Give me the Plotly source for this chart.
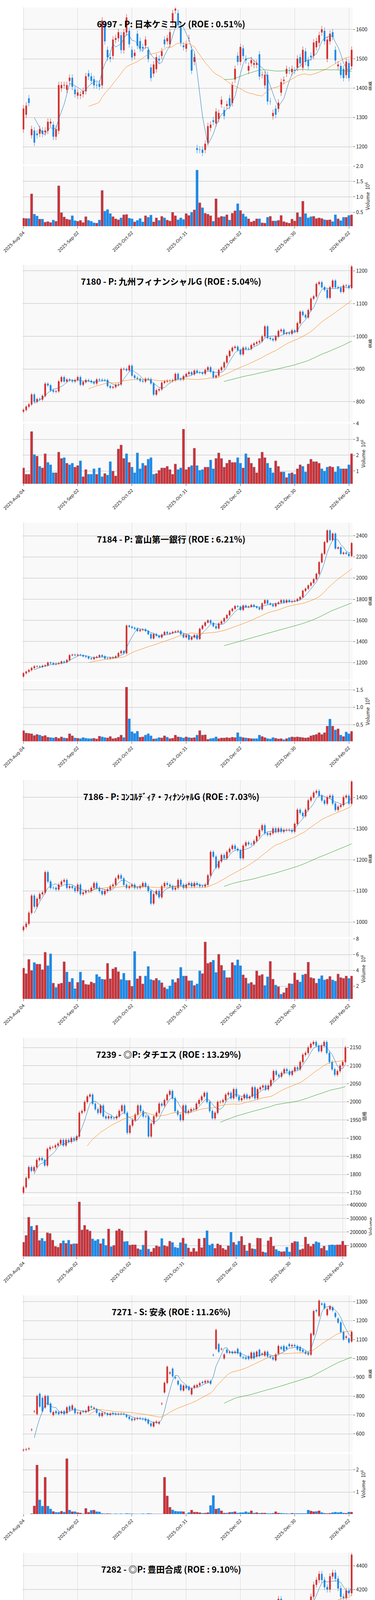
import plotly.graph_objects as go
import pandas as pd

N = 122
tick_idx = [0, 20, 40, 60, 80, 100, 120]
tick_text = ["2025-Aug-04", "2025-Sep-02", "2025-Oct-02", "2025-Oct-31", "2025-Dec-02", "2025-Dec-30", "2026-Feb-02"]

titles = ["6997 - P: 日本ケミコン (ROE : 0.51%)", "7180 - P: 九州フィナンシャルG (ROE : 5.04%)",
          "7184 - P: 富山第一銀行 (ROE : 6.21%)", "7186 - P: ｺﾝｺﾙﾃﾞｨｱ・ﾌｨﾅﾝｼｬﾙG (ROE : 7.03%)",
          "7239 - ◎P: タチエス (ROE : 13.29%)", "7271 - S: 安永 (ROE : 11.26%)",
          "7282 - ◎P: 豊田合成 (ROE : 9.10%)", "7287 - S: 日本精機 (ROE : 4.13%)",
          "7327 - P: 第四北越フィナンシャルG (ROE : 8.08%)", "7381 - P: 北國フィナンシャルHD (ROE : 5.84%)"]

open_6997 = [1260,1310,1365,1240,1255,1245,1245,1255,1250,1255,1280,1275,1235,1255,1400,1410,1395,1425,1435,1395,1375,1375,1380,1390,1450,1440,1430,1410,1415,1410,1620,1530,1505,1510,1565,1570,1580,1530,1590,1595,1530,1510,1585,1560,1540,1545,1530,1470,1450,1465,1500,1510,1565,1560,1550,1625,1665,1655,1605,1545,1535,1570,1530,1490,1195,1190,1190,1190,1215,1265,1290,1280,1295,1345,1325,1340,1365,1350,1430,1510,1490,1535,1500,1460,1485,1480,1480,1515,1445,1410,1445,1355,1305,1330,1330,1385,1425,1450,1460,1455,1460,1470,1505,1470,1525,1495,1510,1510,1540,1555,1590,1595,1500,1560,1590,1530,1475,1475,1465,1445,1485,1475]
close_6997 = [1330,1340,1350,1260,1215,1240,1260,1245,1255,1285,1285,1235,1260,1410,1410,1410,1410,1435,1405,1380,1385,1378,1390,1440,1440,1425,1410,1410,1405,1630,1560,1505,1500,1565,1570,1590,1530,1590,1640,1550,1505,1520,1545,1535,1535,1565,1500,1435,1480,1505,1495,1525,1550,1570,1590,1655,1670,1615,1555,1540,1550,1570,1460,1505,1190,1190,1180,1210,1270,1275,1285,1320,1315,1360,1305,1345,1340,1410,1465,1490,1540,1510,1495,1475,1495,1485,1485,1440,1445,1445,1355,1355,1315,1310,1350,1420,1428,1465,1460,1465,1460,1500,1485,1530,1490,1475,1505,1555,1560,1580,1600,1560,1565,1585,1575,1495,1480,1445,1435,1490,1435,1530]
vol_6997 = [.31,.30,.30,1.10,.44,.38,.28,.28,.18,.20,.17,.25,.21,1.36,.49,.35,.28,.26,.39,.23,.21,.24,.17,.36,.24,.21,.16,.15,.25,1.21,.54,.59,.46,.36,.29,.26,.32,.42,.43,.31,.29,.19,.24,.30,.19,.39,.34,.41,.19,.32,.24,.37,.32,.25,.22,.50,.39,.26,.32,.27,.46,.40,.50,.58,1.87,.81,.65,.47,.44,.39,.21,.94,.33,.37,.36,.42,.25,.47,.55,.78,.56,.45,.36,.29,.19,.22,.29,.29,.16,.15,.34,.37,.22,.22,.24,.40,.20,.17,.15,.28,.22,.49,.35,.86,.46,.32,.36,.37,.30,.32,.30,.26,.25,.26,.20,.42,.29,.23,.34,.34,.40,.42]

close_7180 = [775,785,792,822,800,808,807,818,855,850,835,831,832,862,875,862,868,865,862,866,875,852,860,866,864,860,856,868,867,866,866,848,843,845,852,853,900,900,896,910,880,873,870,864,862,870,869,856,822,835,838,858,862,864,864,866,885,870,868,878,885,890,884,895,890,889,886,897,905,892,875,880,897,905,920,940,955,965,968,958,945,965,962,962,973,978,982,985,1000,1030,995,992,988,1000,1016,1020,1008,1010,1008,1018,1014,1040,1075,1065,1058,1080,1115,1122,1160,1165,1150,1142,1118,1150,1170,1150,1148,1136,1155,1155,1148,1213]
vol_7180 = [1.2,.8,.8,3.5,2.05,1.95,1.3,1.2,2.1,1.55,1.4,.9,.9,2.2,1.8,1.85,1.5,1.4,1.5,1.25,1.35,1.65,.65,1.1,.8,.8,1.15,.8,1.2,.65,.85,.75,1.6,1.0,.7,2.4,2.65,1.8,2.1,1.55,1.25,.9,2.15,1.15,1.5,1.35,1.75,1.85,.8,.85,1.05,1.2,1.2,1.3,1.1,.8,1.45,1.1,1.2,3.65,1.1,1.25,1.35,2.45,1.35,1.05,1.1,1.25,1.25,1.7,1.15,1.8,2.15,1.8,1.25,1.5,1.7,1.55,1.55,1.85,1.5,1.2,2.1,1.85,1.5,1.25,.9,1.8,2.2,1.85,1.5,1.2,.9,1.65,1.3,.95,.95,.6,.85,.9,.8,1.15,1.4,1.3,.95,1.45,1.75,1.6,1.6,1.5,1.15,1.0,1.25,1.3,1.25,.95,1.3,1.15,1.15,1.15,1.4,2.1]

close_7184 = [1100,1115,1130,1150,1165,1165,1160,1170,1175,1200,1195,1185,1190,1195,1210,1205,1225,1270,1275,1270,1275,1270,1260,1255,1240,1235,1250,1255,1270,1260,1240,1240,1245,1250,1260,1290,1310,1290,1550,1540,1530,1520,1500,1510,1515,1500,1470,1430,1470,1455,1440,1465,1490,1475,1480,1490,1495,1500,1470,1440,1460,1420,1440,1460,1425,1520,1550,1580,1600,1575,1545,1525,1570,1590,1620,1650,1690,1710,1735,1730,1700,1740,1725,1730,1745,1730,1720,1705,1760,1790,1760,1750,1735,1760,1770,1790,1770,1790,1775,1780,1785,1800,1820,1880,1900,1930,1955,1990,2040,2150,2230,2340,2450,2360,2420,2280,2290,2230,2240,2230,2210,2330]
vol_7184 = [.33,.26,.25,.24,.19,.22,.2,.17,.19,.14,.13,.12,.14,.11,.15,.12,.11,.24,.18,.12,.11,.1,.13,.11,.1,.1,.11,.09,.17,.15,.13,.12,.16,.1,.11,.14,.2,.13,1.58,.67,.3,.25,.31,.14,.15,.2,.24,.18,.09,.1,.13,.12,.18,.14,.1,.11,.2,.15,.14,.12,.15,.13,.12,.13,.2,.33,.2,.21,.08,.1,.11,.15,.1,.12,.12,.13,.12,.14,.13,.27,.15,.13,.12,.11,.1,.1,.1,.2,.16,.13,.1,.09,.13,.11,.09,.1,.07,.1,.13,.15,.14,.15,.14,.13,.12,.13,.18,.2,.22,.27,.22,.27,.46,.66,.46,.35,.38,.2,.16,.29,.24,.31]

close_7186 = [985,995,1030,1085,1050,1075,1090,1095,1160,1130,1110,1110,1105,1120,1130,1135,1110,1115,1110,1100,1120,1090,1095,1100,1100,1110,1125,1110,1100,1090,1100,1105,1115,1120,1140,1150,1140,1120,1110,1115,1120,1110,1110,1115,1125,1115,1100,1060,1090,1100,1080,1115,1125,1120,1115,1105,1110,1135,1120,1110,1120,1125,1115,1125,1120,1115,1115,1120,1150,1225,1210,1175,1195,1215,1205,1225,1235,1245,1235,1230,1205,1245,1255,1250,1250,1260,1275,1295,1310,1285,1280,1285,1300,1290,1300,1290,1295,1295,1295,1290,1315,1360,1350,1340,1360,1390,1400,1415,1420,1405,1390,1380,1400,1405,1380,1360,1370,1375,1400,1405,1380,1450]
vol_7186 = [4.3,3.6,5.4,4.0,5.0,4.8,4.8,4.1,6.3,4.6,6.1,2.4,1.85,2.3,2.4,5.1,3.8,2.55,3.0,1.7,2.5,3.8,2.75,2.25,2.2,2.55,2.4,3.5,3.2,2.9,2.85,4.9,2.95,4.2,4.4,3.85,2.85,3.65,2.75,2.75,2.0,6.4,2.95,3.3,2.3,3.3,4.5,2.85,2.75,3.0,2.75,2.45,1.85,1.65,2.05,2.85,2.5,3.0,4.4,3.3,3.3,2.7,2.7,2.1,2.3,3.95,3.6,7.6,4.9,5.05,5.3,3.75,6.05,4.65,4.0,3.1,3.1,5.0,4.65,5.35,4.6,3.45,3.05,2.35,2.5,2.2,3.95,3.35,3.5,2.1,3.2,5.15,2.9,2.15,1.95,1.0,1.2,1.8,2.35,2.3,3.7,2.8,2.55,3.45,3.55,5.05,3.1,3.0,2.4,2.95,3.35,2.8,2.9,3.25,2.8,2.65,3.55,3.1,3.0,3.3,3.0,3.3]

close_7239 = [1765,1790,1820,1810,1820,1840,1845,1840,1825,1870,1875,1875,1880,1885,1895,1880,1895,1890,1900,1895,1905,1970,1975,2000,2015,2020,1995,1980,1970,1990,1960,1955,1960,1955,1955,1960,1975,1990,1970,1915,1935,1950,1965,1990,1975,1960,1960,1905,1940,1960,1970,1995,1990,2005,2020,2030,2010,1975,1965,1950,1990,1970,1975,1980,1980,1995,2005,2015,2025,2000,1975,1955,1970,2000,2000,2005,2020,2025,2010,2035,2015,2005,2010,2020,2010,2015,2040,2010,2035,2040,2045,2035,2045,2060,2085,2075,2070,2080,2090,2085,2075,2085,2095,2090,2110,2130,2135,2150,2160,2165,2155,2140,2155,2165,2135,2110,2090,2075,2085,2100,2110,2150]
vol_7239 = [125,175,310,243,214,250,138,154,133,195,190,140,94,88,117,136,117,140,110,114,114,423,216,250,218,208,149,136,146,115,150,102,223,92,102,210,223,210,129,131,104,106,106,78,70,104,210,74,54,81,99,92,152,101,94,133,123,88,83,122,156,113,83,54,81,56,150,85,156,210,104,113,80,113,104,80,69,99,199,124,106,133,168,104,61,118,78,74,156,154,54,48,136,163,96,71,60,54,56,88,53,120,131,129,69,76,163,112,94,112,129,122,80,96,64,104,106,104,106,106,133,104]

open_7271 = [513,516,520,621,718,705,812,790,740,800,760,700,720,715,710,720,710,745,730,735,710,705,720,715,720,745,735,730,710,695,709,708,700,710,707,704,706,706,700,690,680,675,680,683,680,680,675,655,640,660,655,759,820,870,920,945,900,880,860,830,855,850,810,845,850,858,875,872,875,880,1018,1050,1075,1048,1000,1045,1030,1035,1030,1050,1030,1006,1005,1010,1000,1030,1010,1045,1020,1015,1035,1010,1005,990,1025,1060,1065,1060,1075,1065,1070,1065,1060,1045,1035,1030,1020,1125,1255,1225,1290,1290,1230,1260,1270,1240,1210,1190,1140,1110,1105,1090]
close_7271 = [515,518,522,622,719,800,745,720,800,755,715,715,710,705,718,705,740,725,750,710,712,715,716,722,745,740,738,712,695,710,710,700,707,705,703,705,705,705,690,680,672,680,683,682,678,670,655,642,660,665,662,760,870,955,925,905,895,862,832,855,842,833,840,855,858,868,870,880,880,866,1017,1150,1035,1050,1020,1030,1035,1027,1035,1027,1010,1003,998,997,1030,1000,1035,1012,1025,1035,1010,1005,995,1020,1065,1050,1040,1050,1065,1070,1065,1047,1040,1035,1025,1020,1130,1250,1250,1305,1285,1265,1260,1275,1255,1220,1190,1140,1100,1115,1085,1140]
vol_7271 = [.005,.005,.005,.03,.38,2.22,.65,.37,1.67,.37,.24,.13,.09,.09,.14,.1,2.51,.19,.12,.12,.08,.06,.03,.27,.09,.18,.19,.12,.11,.04,.03,.04,.03,.02,.03,.02,.03,.02,.04,.03,.03,.02,.02,.02,.03,.02,.04,.03,.02,.02,.02,.02,1.67,.83,.32,.2,.14,.13,.13,.12,.03,.08,.19,.1,.1,.08,.05,.06,.08,.4,.85,.24,.27,.16,.06,.06,.09,.1,.12,.06,.08,.08,.12,.08,.16,.06,.08,.05,.06,.06,.04,.04,.05,.12,.06,.05,.04,.04,.03,.05,.04,.04,.04,.04,.04,.19,.15,.12,.13,.16,.08,.05,.04,.05,.08,.1,.08,.1,.06,.05,.1,.1]

close_7282 = [3290,3330,3345,3350,3460,3390,3410,3360,3370,3460,3490,3495,3470,3500,3530,3590,3520,3560,3530,3560,3640,3680,3720,3760,3780,3740,3720,3740,3700,3780,3740,3730,3710,3670,3690,3710,3720,3740,3780,3690,3630,3580,3590,3680,3740,3700,3740,3680,3580,3660,3640,3690,3720,3740,3720,3760,3800,3720,3690,3780,3610,3720,3840,3820,3810,3860,3840,3880,3880,3840,3800,3780,3700,3760,3400,3580,3630,3580,3520,3480,3580,3530,3520,3460,3540,3660,3700,3690,3800,3860,3950,3910,3950,4040,4120,4010,3930,3960,3920,3930,3920,4020,4080,4030,4040,4050,4140,4240,4280,4330,4280,4220,4200,4310,4340,4290,4210,4140,4130,4190,4170,4490]
vol_7282 = [.7,.9,.6,.6,.7,1.2,.6,.5,.6,.6,.5,.4,.4,.5,.4,.5,.6,.5,.4,.5,.4,.6,.6,.5,.5,.5,.4,.4,.5,.4,.4,.5,.6,.5,.5,.5,.4,.4,.5,.5,.6,.5,.6,.7,.6,.6,.5,.5,.4,.4,.5,.4,.5,.9,.5,.5,.6,.5,.6,1.5,1.0,1.1,.8,.5,.4,.4,.4,.5,.5,.4,.4,.5,.4,.4,2.1,1.45,1.2,1.9,5.3,7.7,2.8,4.0,3.0,17.9,5.8,2.8,1.8,2.4,1.7,1.7,1.4,1.4,1.8,1.5,1.45,.9,.7,.6,.55,.6,1.0,1.0,1.0,.9,.9,1.6,1.2,1.3,1.7,1.0,1.2,1.45,1.1,.9,1.05,1.1,1.1,1.2,1.3,1.35,1.45,3.2]

close_7287 = [1570,1585,1605,1620,1570,1590,1580,1575,1585,1630,1625,1650,1670,1675,1690,1680,1690,1705,1735,1710,1710,1720,1725,1760,1755,1760,1755,1755,1750,1745,1740,1750,1770,1785,1780,1790,1795,1780,1790,1730,1710,1730,1750,1760,1740,1760,1740,1720,1690,1710,1730,1760,1775,1770,1790,1815,1820,1820,1800,1775,1760,1840,1800,1840,1800,1810,1800,1950,1920,1930,1960,1980,2000,1970,2000,2030,2050,2110,2080,2120,2090,2080,2090,2050,2100,2140,2130,2160,2170,2150,2140,2140,2110,2150,2230,2225,2190,2180,2185,2185,2190,2210,2300,2310,2360,2350,2360,2400,2480,2540,2500,2560,2680,2640,2630,2640,2460,2410,2500,2500,2505,2620]
vol_7287 = [151,167,118,167,249,183,167,147,143,180,95,183,101,82,128,128,88,92,141,137,92,92,108,167,137,101,64,101,58,67,108,114,233,118,161,143,141,105,92,134,92,59,118,84,75,82,124,137,78,105,114,118,134,112,187,62,97,97,112,95,64,128,128,117,158,93,111,360,163,124,196,174,233,197,157,114,114,204,118,161,125,107,84,233,121,108,184,118,118,187,108,147,167,243,207,162,118,97,101,97,96,128,299,312,187,250,378,190,163,292,312,237,349,387,351,257,203,522,336,263,272,259]

close_7327 = [1215,1240,1245,1290,1285,1270,1275,1270,1290,1275,1265,1265,1270,1275,1300,1315,1305,1310,1300,1300,1300,1320,1365,1320,1330,1330,1325,1315,1340,1355,1355,1335,1315,1315,1315,1310,1330,1360,1390,1440,1400,1390,1425,1390,1430,1420,1430,1460,1475,1435,1420,1410,1450,1435,1440,1470,1480,1465,1475,1465,1500,1440,1495,1480,1480,1490,1520,1480,1470,1490,1475,1490,1505,1490,1480,1470,1485,1530,1560,1585,1610,1620,1650,1640,1630,1660,1650,1665,1640,1610,1620,1680,1640,1650,1645,1630,1665,1640,1625,1620,1630,1665,1700,1720,1720,1740,1780,1810,1810,1810,1810,1790,1760,1810,1860,1800,1800,1775,1820,1840,1780,1830]
vol_7327 = [.94,.82,.55,.73,.71,.9,.53,.66,.94,.58,.71,.44,.37,.73,.53,.65,.51,.49,.52,1.39,.96,1.39,.62,.71,.59,.57,.81,.51,.77,.51,.67,.54,1.04,.58,.56,.72,1.39,1.67,1.31,1.1,.67,.83,1.19,.51,.77,.61,.88,.86,.51,.44,.66,.61,.54,.75,.5,.35,.83,.81,.5,.75,.63,.63,.75,.71,.82,.89,.5,.57,.5,.49,.48,.54,.48,.52,.8,.58,.62,.6,.63,.85,.77,.56,.55,.49,.43,.41,.56,.63,.88,.67,.94,.63,.75,.92,.5,.58,.56,.34,.56,.64,.5,.71,.84,.88,.56,.71,.81,.73,.73,.96,.6,.59,.84,.88,.59,.71,.54,.74,.86,.88,1.19,1.0]

close_7381 = [555,562,563,570,577,583,585,595,605,615,620,600,595,600,615,630,615,610,608,608,610,620,618,618,622,620,620,630,635,638,625,615,613,615,620,620,628,655,660,690,680,660,660,665,665,662,645,625,630,640,632,650,655,650,665,675,690,680,670,675,670,645,660,650,648,645,650,640,645,650,630,620,625,630,650,650,660,665,700,710,715,700,708,715,718,712,714,695,705,715,700,705,700,700,725,720,790,765,795,815,810,845,875,900,895,900,915,935,975,985,965,960,935,965,975,945,910,885,920,925,875,915]
vol_7381 = [.74,.48,.57,.52,.69,.93,.83,.71,.72,.79,.78,.39,.37,.6,.57,.57,.52,.43,.43,.64,.54,.99,.54,.45,.55,.45,.41,.29,.62,.57,.71,.42,.91,.59,.45,.46,.83,.79,1.08,1.12,.83,.57,.74,.57,.45,.52,.74,.59,.26,.28,.39,.37,.54,.61,.52,.5,1.4,.77,.66,1.58,.75,1.14,.72,.72,.48,.45,.41,.5,.39,.31,.53,.57,.45,.45,.48,.39,.51,.41,.93,.79,.54,.45,.37,.48,.43,.41,.53,.48,.54,.39,.45,.45,.43,.43,.57,.26,2.46,1.19,.93,.64,.59,.97,.97,1.23,1.43,.91,.88,.88,1.3,.85,1.0,.71,.84,.76,.78,.91,.91,1.15,.99,1.2,1.54,1.03]

closes = [close_6997, close_7180, close_7184, close_7186, close_7239, close_7271, close_7282, close_7287, close_7327, close_7381]
opens_given = [open_6997, None, None, None, None, open_7271, None, None, None, None]
first_open = [1260, 770, 1070, 975, 1750, 513, 3200, 1550, 1195, 550]
vols = [vol_6997, vol_7180, vol_7184, vol_7186, vol_7239, vol_7271, vol_7282, vol_7287, vol_7327, vol_7381]
vol_scale = [1, 1, 1, 1, 1000, 1, 1, 1000, 1, 1]
wick = [12, 5, 12, 6, 5, 8, 25, 12, 8, 5]
price_range = [[1140, 1675], [738, 1218], [1040, 2525], [952, 1455], [1744, 2177], [502, 1334], [3190, 4507], [1492, 2726], [1178, 1865], [544, 1004]]
price_dtick = [100, 100, 200, 100, 50, 100, 200, 200, 100, 100]
vol_range = [[0.05, 2.0], [0.2, 4.0], [0.02, 1.75], [0.4, 8.0], [19000, 464000], [0.01, 2.72], [0.2, 19.6], [22000, 572000], [0.11, 1.82], [0.1, 2.69]]
vol_dtick = [0.5, 1, 0.5, 2, 100000, 1, 5, 200000, 0.5, 1]
vol_fmt = [".1f", "d", ".1f", "d", "d", "d", "d", "d", ".1f", "d"]
vol_title = ["Volume  10<sup>6</sup>"] * 4 + ["Volume"] + ["Volume  10<sup>6</sup>"] * 2 + ["Volume"] + ["Volume  10<sup>6</sup>"] * 2
x_right = [1.0, 1.0, 1.0, 1.0, 0.981, 1.0, 1.0, 0.981, 1.0, 1.0]

RED = "#d32f2f"
BLUE = "#1e88e5"
H = 6597
FONT = "Noto Sans CJK JP"

def fix(a):
    a = list(a)
    return (a + [a[-1]] * N)[:N]

fig = go.Figure()
layout = dict()
x = list(range(N))
for k in range(10):
    c = fix(closes[k])
    if opens_given[k] is not None:
        o = fix(opens_given[k])
    else:
        o = [first_open[k]] + c[:-1]
    w = wick[k]
    hi = [max(a, b) + w for a, b in zip(o, c)]
    lo = [min(a, b) - w for a, b in zip(o, c)]
    v = [val * vol_scale[k] for val in fix(vols[k])]
    cols = [RED if cc >= oo else BLUE for oo, cc in zip(o, c)]
    s = pd.Series(c)
    px_, py_ = 2 * k + 1, 2 * k + 2
    xa1, ya1 = f"x{px_}" if px_ > 1 else "x", f"y{px_}" if px_ > 1 else "y"
    xa2, ya2 = f"x{py_}", f"y{py_}"
    fig.add_trace(go.Candlestick(x=x, open=o, high=hi, low=lo, close=c, xaxis=xa1, yaxis=ya1,
                                 increasing=dict(line=dict(color=RED, width=1), fillcolor=RED),
                                 decreasing=dict(line=dict(color=BLUE, width=1), fillcolor=BLUE),
                                 whiskerwidth=0, showlegend=False))
    for win, col in [(5, "#1f77b4"), (25, "#ff7f0e"), (75, "#2ca02c")]:
        fig.add_trace(go.Scatter(x=x, y=s.rolling(win).mean(), mode="lines", line=dict(color=col, width=1),
                                 xaxis=xa1, yaxis=ya1, showlegend=False))
    fig.add_trace(go.Bar(x=x, y=v, marker=dict(color=cols, line=dict(color="#5b9bd5", width=0.5)),
                         xaxis=xa2, yaxis=ya2, showlegend=False, width=0.9))
    T = 11 + 659.4 * k
    pd_ = [1 - (T + 402) / H, 1 - T / H]
    vd_ = [1 - (T + 560) / H, 1 - (T + 406) / H]
    xd = [0, x_right[k]]
    common_x = dict(range=[-0.3, 121.4], domain=xd, tickvals=tick_idx, showgrid=True, gridcolor="#d9d9d9",
                    zeroline=False, showline=False)
    kx1 = "xaxis" if px_ == 1 else f"xaxis{px_}"
    ky1 = "yaxis" if px_ == 1 else f"yaxis{px_}"
    layout[kx1] = dict(common_x, anchor=ya1, showticklabels=False, rangeslider=dict(visible=False), matches=xa2)
    layout[f"xaxis{py_}"] = dict(common_x, anchor=ya2, ticktext=tick_text, tickangle=-45, ticks="outside",
                                 ticklen=5, ticklabeloverflow="allow",
                                 tickfont=dict(size=11, color="#222", family="DejaVu Sans"))
    layout[ky1] = dict(domain=pd_, anchor=xa1, side="right", range=price_range[k], dtick=price_dtick[k],
                       ticks="outside", ticklen=5, gridcolor="#d9d9d9", gridwidth=1.5, zeroline=False,
                       tickfont=dict(size=13, color="#222"),
                       title=dict(text="価格", font=dict(size=12, color="#222"), standoff=6))
    layout[f"yaxis{py_}"] = dict(domain=vd_, anchor=xa2, side="right", range=vol_range[k], dtick=vol_dtick[k],
                                 tickformat=vol_fmt[k], ticks="outside", ticklen=5, gridcolor="#d9d9d9",
                                 gridwidth=1.5, zeroline=False, tickfont=dict(size=13, color="#222"),
                                 title=dict(text=vol_title[k], font=dict(size=13, color="#222"), standoff=4))
    fig.add_annotation(text=f"<b>{titles[k]}</b>", xref="paper", yref="paper", x=0.45 * x_right[k],
                       y=1 - (T + 41) / H, showarrow=False, font=dict(size=22, color="black", family=FONT),
                       xanchor="center", yanchor="middle")

fig.update_layout(**layout)
fig.update_layout(width=960, height=H, margin=dict(l=50, r=65, t=0, b=0, autoexpand=False), plot_bgcolor="#f9f9f9",
                  paper_bgcolor="white", font=dict(family=FONT), bargap=0.1, showlegend=False)
fig.write_html("out.html")
